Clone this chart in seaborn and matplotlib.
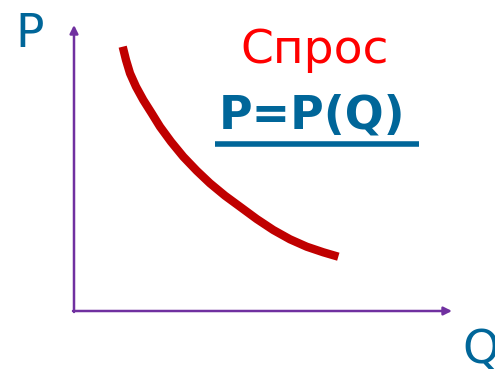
import matplotlib
matplotlib.use("Agg")
import matplotlib.pyplot as plt
import seaborn as sns
from matplotlib.lines import Line2D

# demand curve
q_vals = [4.87, 5.2, 5.6, 6.2, 6.93, 7.77, 8.6, 9.7, 10.93, 12.27,
          13.6, 15.1, 16.6, 18.27, 19.93, 21.6, 23.27, 24.93, 26.43]
p_vals = [26.43, 25.1, 23.77, 22.43, 21.1, 19.77, 18.43, 16.93, 15.43, 14.03,
          12.77, 11.53, 10.43, 9.2, 8.1, 7.17, 6.43, 5.87, 5.43]
x_axis_end = 37.8
y_axis_end = 28.6

title_text = "Спрос"
formula_text = "P=P(Q)"

sns.set_style("white")
plt.rcParams['font.family'] = ['DejaVu Sans']

fig = plt.figure(figsize=(4.95, 3.73), dpi=100)
ax = fig.add_axes([0, 0, 1, 1])
ax.set_xlim(-7.4, 42.1)
ax.set_ylim(-6.2, 31.1)
ax.axis("off")

axis_col = "#7030A0"
blue = "#006699"

# axes with arrows
ax.annotate("", xy=(0, y_axis_end), xytext=(0, -0.1),
            arrowprops=dict(arrowstyle="-|>", color=axis_col, lw=1.8, mutation_scale=12,
                            shrinkA=0, shrinkB=0))
ax.annotate("", xy=(x_axis_end, 0), xytext=(-0.1, 0),
            arrowprops=dict(arrowstyle="-|>", color=axis_col, lw=1.8, mutation_scale=12,
                            shrinkA=0, shrinkB=0))

# the curve
sns.lineplot(x=q_vals, y=p_vals, ax=ax, color="#C00000", linewidth=6,
             sort=False, estimator=None)
ax.lines[-1].set_solid_capstyle("butt")
ax.lines[-1].set_solid_joinstyle("round")

ax.text(-4.4, 26.4, "P", color=blue, fontsize=34, ha="center", va="baseline")
ax.text(40.7, -5.2, "Q", color=blue, fontsize=34, ha="center", va="baseline")
ax.text(24.1, 24.8, title_text, color="#FF0000", fontsize=34, ha="center", va="baseline")
ft = ax.text(23.8, 18.3, formula_text, color=blue, fontsize=33, fontweight="bold",
             ha="center", va="baseline")

# underline under the formula
fig.canvas.draw()
bb = ft.get_window_extent()
W, H = fig.bbox.width, fig.bbox.height
uy = (373 - 143.5) / H
fig.add_artist(Line2D([(bb.x0 - 4) / W, (bb.x1 + 14) / W], [uy, uy],
                      color=blue, lw=4, solid_capstyle="butt"))

fig.savefig("out.png", dpi=100)
